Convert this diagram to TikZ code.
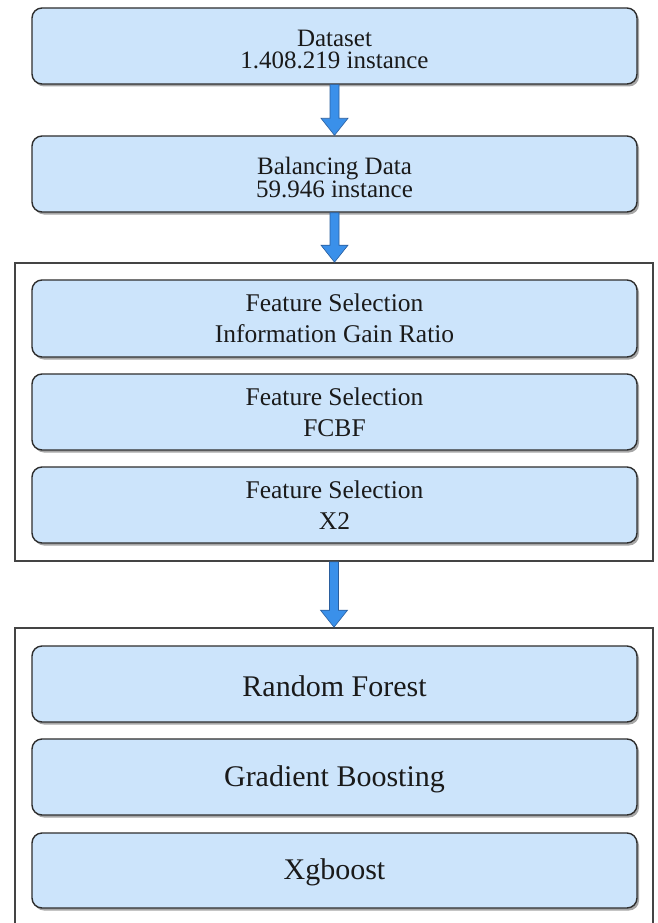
\documentclass[tikz,border=0pt]{standalone}
\usepackage{fontspec}
\setmainfont{Liberation Serif}
\usetikzlibrary{shadows,calc}
\definecolor{boxfill}{HTML}{CCE4FB}
\definecolor{boxedge}{HTML}{2E2E2E}
\definecolor{arrowfill}{HTML}{3A90EA}
\definecolor{arrowedge}{HTML}{2A5E9E}
\definecolor{contedge}{HTML}{444444}
\definecolor{txt}{HTML}{1A1A1A}
\tikzset{
  procbox/.style={draw=boxedge, line width=1.4pt, fill=boxfill, rounded corners=10pt,
    minimum width=605pt, minimum height=76pt, inner sep=0pt, text=txt, align=center,
    drop shadow={shadow xshift=2pt, shadow yshift=-2.5pt, opacity=0.35, fill=black}},
  boxtext/.style={text=txt, align=center, inner sep=0pt},
  tightfont/.style={font=\fontsize{25}{21.5}\selectfont},
  fsfont/.style={font=\fontsize{25.5}{31}\selectfont},
  bigfont/.style={font=\fontsize{30}{36}\selectfont},
  container/.style={draw=contedge, line width=1.6pt, fill=white, inner sep=0pt},
}
\newcommand\fatarrow[2]{%
  \path let \p1=(#1.south), \p2=(#2.north) in
    [fill=arrowfill, draw=arrowedge, line width=0.6pt, line join=miter]
    (\x1-4.5pt,\y1) -- (\x1-4.5pt,\y2+17pt) -- (\x1-13.5pt,\y2+17pt) -- (\x1,\y2)
    -- (\x1+13.5pt,\y2+17pt) -- (\x1+4.5pt,\y2+17pt) -- (\x1+4.5pt,\y1) -- cycle;}
\begin{document}
\begin{tikzpicture}[x=1pt,y=-1pt]
\clip (0,0) rectangle (658,923);
\fill[white] (0,0) rectangle (658,923);
% containers
\node[container, minimum width=638pt, minimum height=298pt] (c1) at (334,412) {};
\node[container, minimum width=638pt, minimum height=340pt] (c2) at (334,798) {};
% boxes
\node[procbox, label={[boxtext, tightfont, yshift=-3.5pt]center:Dataset\\1.408.219 instance}] (ds) at (334.5,46) {};
\node[procbox, label={[boxtext, tightfont, yshift=-3.5pt]center:Balancing Data\\59.946 instance}] (bal) at (334.5,174) {};
\node[procbox, fsfont, minimum height=77pt] (fs1) at (334.5,318.5) {Feature Selection\\Information Gain Ratio};
\node[procbox, fsfont] (fs2) at (334.5,412) {Feature Selection\\FCBF};
\node[procbox, fsfont] (fs3) at (334.5,505) {Feature Selection\\X2};
\node[procbox, label={[boxtext, bigfont, yshift=-2pt]center:Random Forest}] (rf) at (334.5,684) {};
\node[procbox, label={[boxtext, bigfont, yshift=-2pt]center:Gradient Boosting}] (gb) at (334.5,777) {};
\node[procbox, minimum height=75pt, label={[boxtext, bigfont, yshift=-2pt]center:Xgboost}] (xg) at (334.5,870.5) {};
% arrows
\fatarrow{ds}{bal}
\fatarrow{bal}{c1}
\fatarrow{c1}{c2}
\end{tikzpicture}
\end{document}
